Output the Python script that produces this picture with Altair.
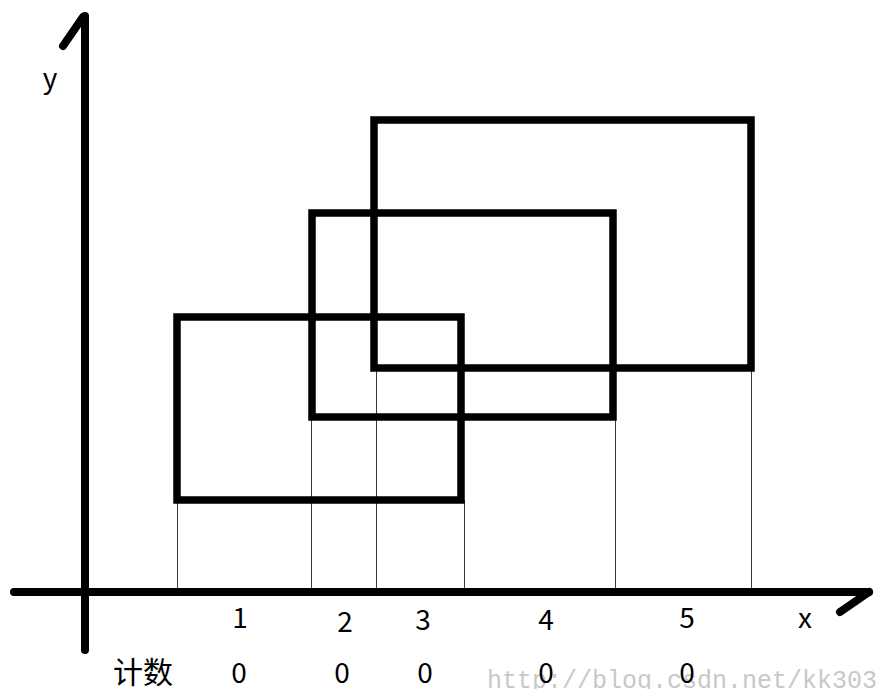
import altair as alt
import pandas as pd

# Diagram coordinates (same units as the picture, origin top-left of page)
# Axes lines: x, y, x2, y2
axis_x1 = [85, 14, 83, 869]
axis_y1 = [16, 592, 17, 592]
axis_x2 = [85, 869, 63, 840]
axis_y2 = [650, 592, 46, 612]

# Rectangles
rect_left = [177, 312, 374]
rect_right = [461, 613, 751]
rect_top = [317, 213, 120]
rect_bottom = [500, 417, 368]

# Thin projection lines
proj_x = [177.5, 311.5, 376.5, 464.5, 615.5, 751.5]
proj_top = [500, 417, 368, 500, 417, 368]
proj_base = [592, 592, 592, 592, 592, 592]

# Segment labels
seg_labels = ["1", "2", "3", "4", "5"]
seg_x = [240, 345, 423, 546, 687]
seg_y = [628, 632, 630, 630, 628]
count_labels = ["0", "0", "0", "0", "0"]
count_x = [239, 342, 425, 546, 687]
count_y = [683, 683, 683, 683, 683]

axis_names = ["x", "y"]
axis_name_x = [805, 50]
axis_name_y = [628, 88]

XS = alt.Scale(domain=[8, 884])
YS = alt.Scale(domain=[8, 689], reverse=True)

axes_df = pd.DataFrame({"x": axis_x1, "y": axis_y1, "x2": axis_x2, "y2": axis_y2})
rect_df = pd.DataFrame({"x": rect_left, "x2": rect_right, "y": rect_top, "y2": rect_bottom})
proj_df = pd.DataFrame({"x": proj_x, "y": proj_top, "y2": proj_base})
seg_df = pd.DataFrame({"t": seg_labels, "x": seg_x, "y": seg_y})
cnt_df = pd.DataFrame({"t": count_labels, "x": count_x, "y": count_y})
name_df = pd.DataFrame({"t": axis_names, "x": axis_name_x, "y": axis_name_y})
cn_df = pd.DataFrame({"t": ["计数"], "x": [143], "y": [683]})
wm_df = pd.DataFrame({"t": ["http://blog.csdn.net/kk303"], "x": [487], "y": [688]})

proj = alt.Chart(proj_df).mark_rule(color="#3a3a3a", strokeWidth=1).encode(
    x=alt.X("x:Q", scale=XS, axis=None),
    y=alt.Y("y:Q", scale=YS, axis=None),
    y2="y2:Q",
)

rects = alt.Chart(rect_df).mark_rect(
    fill="white", fillOpacity=0, stroke="black", strokeWidth=7.5, strokeJoin="miter"
).encode(
    x=alt.X("x:Q", scale=XS, axis=None),
    x2="x2:Q",
    y=alt.Y("y:Q", scale=YS, axis=None),
    y2="y2:Q",
)

axes = alt.Chart(axes_df).mark_rule(color="black", strokeWidth=8, strokeCap="round").encode(
    x=alt.X("x:Q", scale=XS, axis=None),
    x2="x2:Q",
    y=alt.Y("y:Q", scale=YS, axis=None),
    y2="y2:Q",
)

def text_layer(df, size, font, color="black", align="center"):
    return alt.Chart(df).mark_text(
        fontSize=size, font=font, color=color, align=align, baseline="alphabetic"
    ).encode(
        x=alt.X("x:Q", scale=XS, axis=None),
        y=alt.Y("y:Q", scale=YS, axis=None),
        text="t:N",
    )

segs = text_layer(seg_df, 28, "Noto Sans CJK SC")
cnts = text_layer(cnt_df, 28, "Noto Sans CJK SC")
names = text_layer(name_df, 28, "Noto Sans CJK SC")
cn = text_layer(cn_df, 30, "Noto Sans CJK SC")
wm = text_layer(wm_df, 25, "Liberation Mono", color="#c8c8c8", align="left")

chart = alt.layer(proj, rects, axes, wm, segs, cnts, names, cn).properties(
    width=876, height=681,
    autosize=alt.AutoSizeParams(type="none"),
    padding=0,
).configure_view(stroke=None)

chart.save("out.html", embed_options={"renderer": "svg", "actions": False})
